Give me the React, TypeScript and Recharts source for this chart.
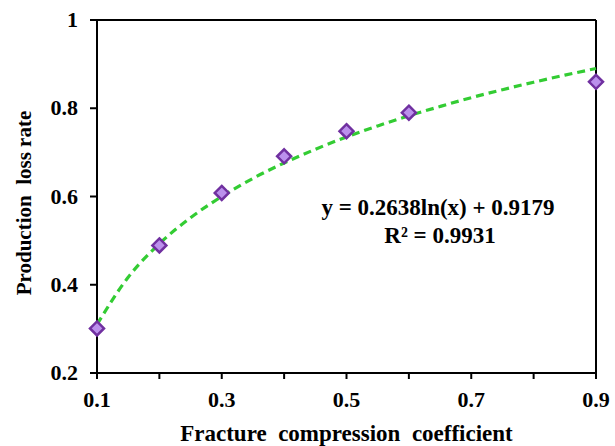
import React from "react";
import {
  ComposedChart,
  XAxis,
  YAxis,
  Line,
  Scatter,
  ReferenceLine,
} from "recharts";

const coefficient = [0.1, 0.2, 0.3, 0.4, 0.5, 0.6, 0.9];
const lossRate = [0.301, 0.489, 0.608, 0.691, 0.748, 0.79, 0.86];

const trendX = [0.1, 0.15, 0.2, 0.25, 0.3, 0.35, 0.4, 0.45, 0.5, 0.55, 0.6, 0.65, 0.7, 0.75, 0.8, 0.85, 0.9];
const trendY = [0.31, 0.417, 0.493, 0.552, 0.6, 0.641, 0.676, 0.707, 0.735, 0.76, 0.783, 0.804, 0.824, 0.842, 0.859, 0.875, 0.89];

const xTicks = [0.1, 0.2, 0.3, 0.4, 0.5, 0.6, 0.7, 0.8, 0.9];
const xLabelled = [0.1, 0.3, 0.5, 0.7, 0.9];
const yTicks = [0.2, 0.4, 0.6, 0.8, 1];

const points = coefficient.map((x, i) => ({ x, y: lossRate[i] }));
const trend = trendX.map((x, i) => ({ x, t: trendY[i] }));

const FONT = "'Liberation Serif', 'Times New Roman', serif";

function Diamond(props: any) {
  const { cx, cy } = props;
  const r = 7;
  return (
    <polygon
      points={`${cx},${cy - r} ${cx + r},${cy} ${cx},${cy + r} ${cx - r},${cy}`}
      fill="#bb90ec"
      stroke="#7030a0"
      strokeWidth={2.5}
    />
  );
}

function XTick(props: any) {
  const { x, y, payload } = props;
  const v = Math.round(payload.value * 10) / 10;
  if (!xLabelled.includes(v)) return null;
  return (
    <text x={x} y={y + 26} textAnchor="middle" fontFamily={FONT} fontWeight="bold" fontSize={22} fill="#000">
      {String(v)}
    </text>
  );
}

function YTick(props: any) {
  const { x, y, payload } = props;
  return (
    <text x={x} y={y + 7} textAnchor="end" fontFamily={FONT} fontWeight="bold" fontSize={22} fill="#000">
      {String(payload.value)}
    </text>
  );
}

export default function App() {
  return (
    <div style={{ position: "absolute", left: 0, top: 0 }}>
      <ComposedChart
        width={615}
        height={446}
        margin={{ top: 20, right: 19, bottom: 0, left: 0 }}
      >
        <XAxis
          type="number"
          dataKey="x"
          domain={[0.1, 0.9]}
          ticks={xTicks}
          stroke="#000"
          strokeWidth={2}
          tickSize={6}
          height={73}
          tick={<XTick />}
          label={{
            value: "Fracture\u00a0 compression\u00a0 coefficient",
            position: "insideBottom",
            offset: 5,
            style: { fontFamily: FONT, fontWeight: "bold", fontSize: 23, fill: "#000" },
          }}
        />
        <YAxis
          type="number"
          domain={[0.2, 1]}
          ticks={yTicks}
          width={97}
          stroke="#000"
          strokeWidth={2}
          tickSize={7}
          tickMargin={12}
          tick={<YTick />}
          label={{
            content: () => (
              <text
                x={31}
                y={203}
                transform="rotate(-90 31 203)"
                textAnchor="middle"
                fontFamily={FONT}
                fontWeight="bold"
                fontSize={21}
                fill="#000"
              >
                {"Production\u00a0 loss rate"}
              </text>
            ),
          }}
        />
        <ReferenceLine y={1} stroke="#000" strokeWidth={2} />
        <ReferenceLine x={0.9} stroke="#000" strokeWidth={2} />
        <Line
          data={trend}
          dataKey="t"
          type="monotone"
          stroke="#33cc33"
          strokeWidth={3.2}
          strokeDasharray="8 5"
          dot={false}
          isAnimationActive={false}
        />
        <Scatter
          data={points}
          dataKey="y"
          shape={<Diamond />}
          isAnimationActive={false}
        />
        <text x={438} y={215} textAnchor="middle" fontFamily={FONT} fontWeight="bold" fontSize={23} fill="#000">
          y = 0.2638ln(x) + 0.9179
        </text>
        <text x={440} y={243} textAnchor="middle" fontFamily={FONT} fontWeight="bold" fontSize={23} fill="#000">
          R² = 0.9931
        </text>
      </ComposedChart>
    </div>
  );
}
